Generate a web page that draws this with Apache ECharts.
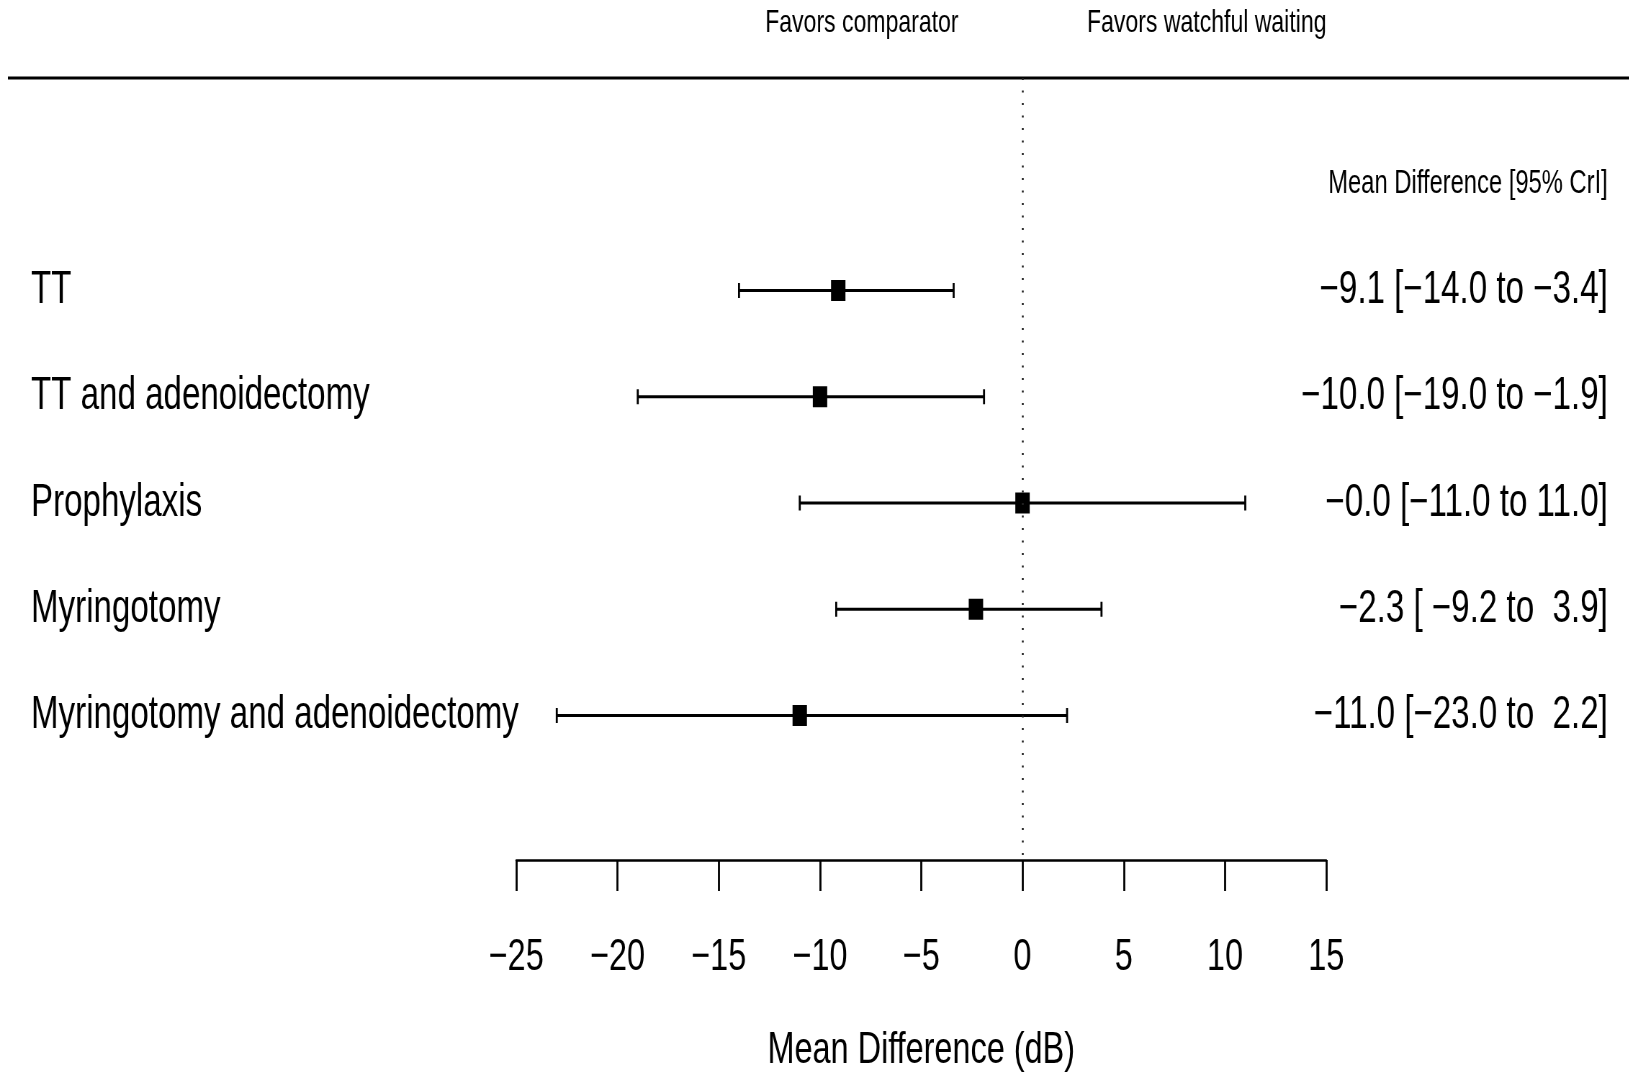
<!DOCTYPE html>
<html>
<head>
<meta charset="utf-8">
<script src="https://cdn.jsdelivr.net/npm/echarts@6/dist/echarts.min.js"></script>
<style>
  html, body { margin: 0; padding: 0; background: #fff; overflow: hidden; }
  #wrap { width: 1629px; height: 1072px; overflow: hidden; }
  /* the original figure is a horizontally squeezed R plot, so draw wide and squeeze */
  #chart { width: 2263px; height: 1072px; transform: scaleX(0.72); transform-origin: 0 0; }
</style>
</head>
<body>
<div id="wrap"><div id="chart"></div></div>
<script>
// forest plot data
const rows = ['TT', 'TT and adenoidectomy', 'Prophylaxis', 'Myringotomy', 'Myringotomy and adenoidectomy']
const est = [-9.1, -10.0, -0.0, -2.3, -11.0]
const lower = [-14.0, -19.0, -11.0, -9.2, -23.0]
const upper = [-3.4, -1.9, 11.0, 3.9, 2.2]
const ciLabels = [
  '\u22129.1 [\u221214.0 to \u22123.4]',
  '\u221210.0 [\u221219.0 to \u22121.9]',
  '\u22120.0 [\u221211.0 to 11.0]',
  '\u22122.3 [ \u22129.2 to  3.9]',
  '\u221211.0 [\u221223.0 to  2.2]'
]
const xTicks = [-25, -20, -15, -10, -5, 0, 5, 10, 15]
const headerLabel = 'Mean Difference [95% CrI]'
const favorsLeft = 'Favors comparator'
const favorsRight = 'Favors watchful waiting'
const axisTitle = 'Mean Difference (dB)'

const FONT = "'Liberation Sans', Arial, Helvetica, sans-serif"
const minus = v => (v < 0 ? '\u2212' + Math.abs(v) : String(v))

const W = 2263
const chart = echarts.init(document.getElementById('chart'))

const option = {
  animation: false,
  backgroundColor: '#fff',
  textStyle: { fontFamily: FONT, color: '#000' },
  grid: { left: 717, right: 421, top: 78, bottom: 212, containLabel: false, outerBoundsMode: 'none' },
  graphic: [
    {
      type: 'line',
      shape: { x1: 11, y1: 78, x2: W, y2: 78 },
      style: { stroke: '#000', lineWidth: 3 }
    },
    {
      type: 'text', x: 1197, y: 23,
      style: { text: favorsLeft, font: '32px ' + FONT, fill: '#000', align: 'center', verticalAlign: 'middle' }
    },
    {
      type: 'text', x: 1676, y: 23,
      style: { text: favorsRight, font: '32px ' + FONT, fill: '#000', align: 'center', verticalAlign: 'middle' }
    }
  ],
  xAxis: {
    type: 'value',
    min: xTicks[0],
    max: xTicks[xTicks.length - 1],
    interval: 5,
    name: axisTitle,
    nameLocation: 'middle',
    nameGap: 168,
    nameTextStyle: { fontSize: 45, color: '#000', fontFamily: FONT },
    axisLine: { show: true, onZero: false, lineStyle: { color: '#000', width: 2.5 } },
    axisTick: { show: true, length: 31, lineStyle: { color: '#000', width: 2.8 } },
    axisLabel: { fontSize: 45, color: '#000', margin: 75, formatter: minus },
    splitLine: { show: false }
  },
  yAxis: [
    {
      type: 'value',
      inverse: true,
      min: -1,
      max: 6.36,
      interval: 1,
      position: 'left',
      axisLine: { show: false },
      axisTick: { show: false },
      splitLine: { show: false },
      axisLabel: {
        showMaxLabel: false,
        align: 'left',
        margin: 674,
        fontSize: 46,
        color: '#000',
        formatter: v => rows[v - 1] || ''
      }
    },
    {
      type: 'value',
      inverse: true,
      min: -1,
      max: 6.36,
      interval: 1,
      position: 'right',
      axisLine: { show: false },
      axisTick: { show: false },
      splitLine: { show: false },
      axisLabel: {
        showMaxLabel: false,
        align: 'right',
        margin: 391,
        fontSize: 46,
        color: '#000',
        formatter: v => (v === 0 ? '{h|' + headerLabel + '}' : ciLabels[v - 1] || ''),
        rich: { h: { fontSize: 33, color: '#000', fontFamily: FONT } }
      }
    }
  ],
  series: [
    {
      type: 'custom',
      name: 'ci',
      data: rows.map((r, i) => [i + 1, lower[i], upper[i]]),
      encode: { x: [1, 2], y: 0 },
      renderItem: (params, api) => {
        const y = api.value(0)
        const a = api.coord([api.value(1), y])
        const b = api.coord([api.value(2), y])
        const h = 7.5
        const st = { stroke: '#000', lineWidth: 3 }
        const cap = { stroke: '#000', lineWidth: 2.8 }
        return {
          type: 'group',
          children: [
            { type: 'line', shape: { x1: a[0], y1: a[1], x2: b[0], y2: b[1] }, style: st },
            { type: 'line', shape: { x1: a[0], y1: a[1] - h, x2: a[0], y2: a[1] + h }, style: cap },
            { type: 'line', shape: { x1: b[0], y1: b[1] - h, x2: b[0], y2: b[1] + h }, style: cap }
          ]
        }
      },
      z: 2
    },
    {
      type: 'scatter',
      name: 'estimate',
      data: est.map((v, i) => [v, i + 1]),
      symbol: 'rect',
      symbolSize: [20, 21],
      itemStyle: { color: '#000', opacity: 1 },
      z: 3,
      markLine: {
        silent: true,
        symbol: 'none',
        label: { show: false },
        lineStyle: { color: '#222', width: 2.6, type: [2, 10.5] },
        data: [{ xAxis: 0 }]
      }
    }
  ]
}

chart.setOption(option)
</script>
</body>
</html>
